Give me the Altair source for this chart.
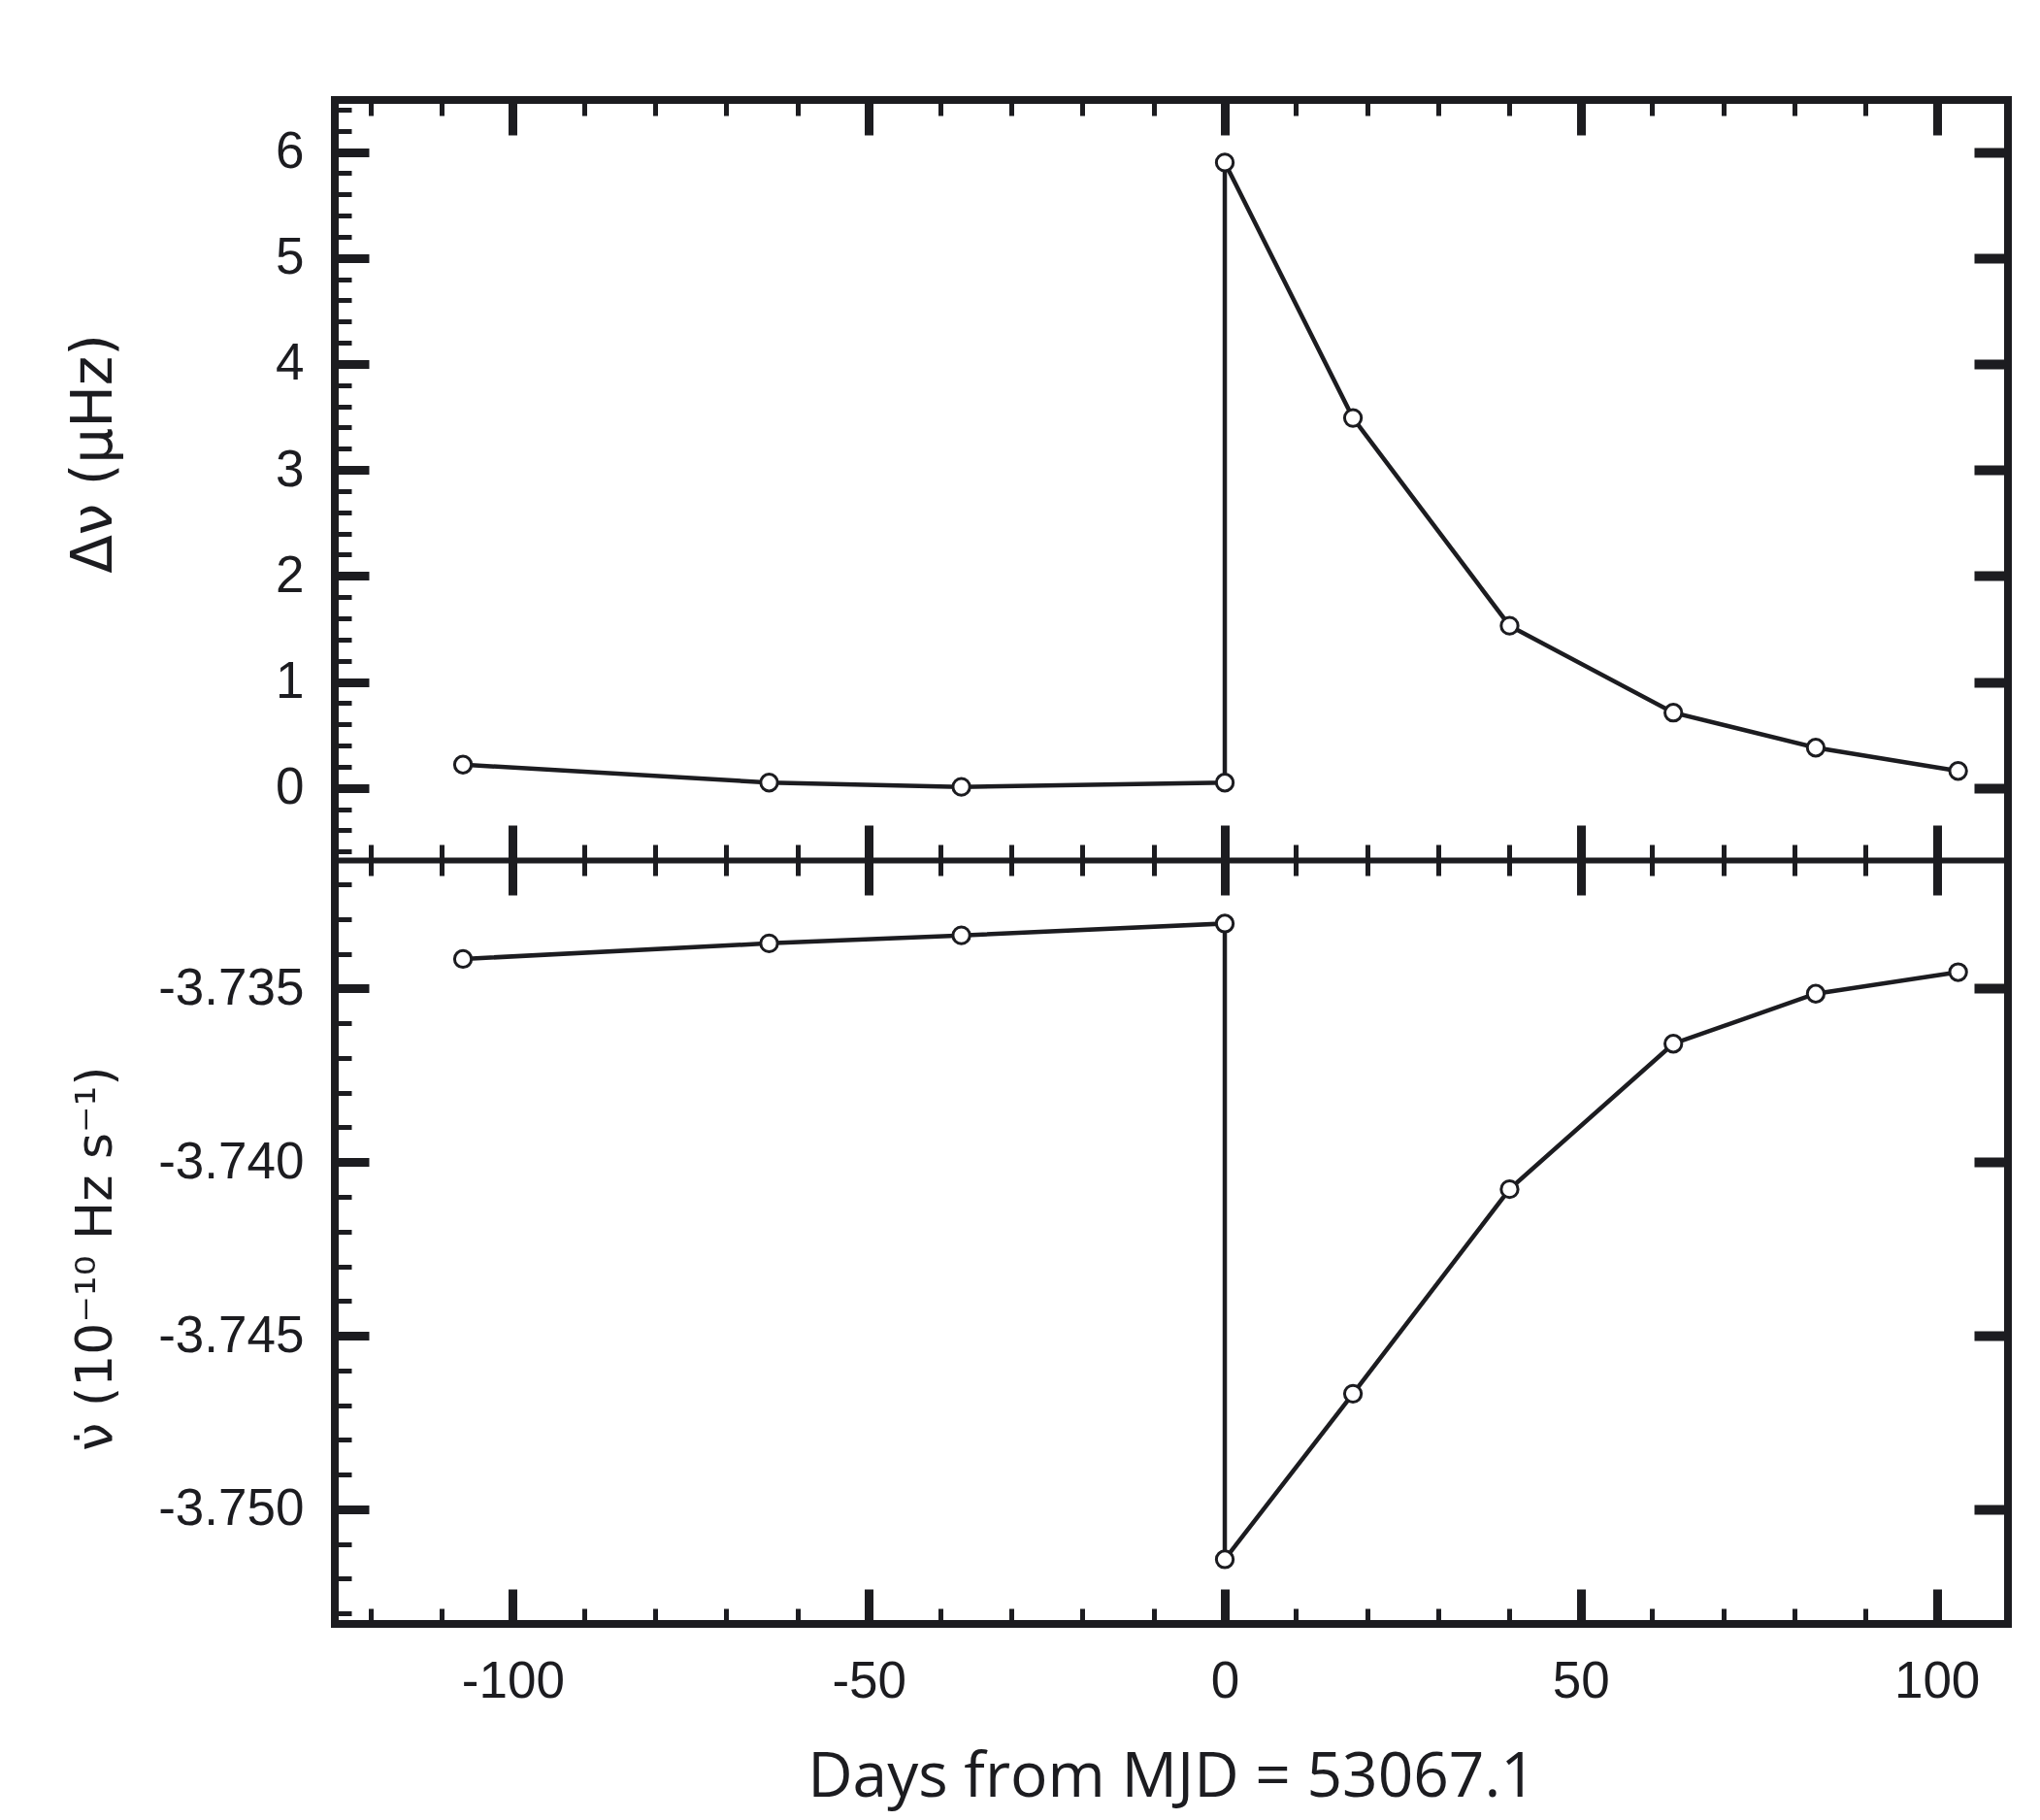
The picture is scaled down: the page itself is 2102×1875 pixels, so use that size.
import altair as alt
import pandas as pd

# ---- data ----
days = [-107, -64, -37, 0, 0, 18, 40, 63, 83, 103]
delta_nu = [0.22, 0.05, 0.01, 0.05, 5.90, 3.49, 1.53, 0.71, 0.38, 0.16]
nu_dot = [-3.73415, -3.73370, -3.73347, -3.73313, -3.75144,
          -3.74667, -3.74078, -3.73659, -3.73515, -3.73453]

x_domain = [-125, 110]
x_major = [-100, -50, 0, 50, 100]
x_minor = list(range(-120, 101, 10))

top_domain = [-0.68, 6.49]
top_major = [0, 1, 2, 3, 4, 5, 6]
top_minor = [round(-0.6 + 0.2 * i, 1) for i in range(36)]

bot_domain = [-3.7533, -3.7313]
bot_major = [-3.750, -3.745, -3.740, -3.735]
bot_minor = [round(-3.753 + 0.001 * i, 3) for i in range(22)]

x_title = "Days from MJD = 53067.1"
top_title = "Δν  (μHz)"
bot_title = "ν̇ (10⁻¹⁰ Hz s⁻¹)"

df = pd.DataFrame({"i": range(len(days)), "day": days,
                   "dnu": delta_nu, "nudot": nu_dot})

INK = "#1c1c20"
LABEL_FONT = "Liberation Sans"
TITLE_FONT = "DejaVu Sans"
PLOT_W = 1724
H_UP = 783
H_LO = 787
H = H_UP + H_LO

xs = alt.Scale(domain=x_domain, nice=False, zero=False)
ys_up = alt.Scale(domain=top_domain, range=[H_UP, 0], nice=False, zero=False)
ys_lo = alt.Scale(domain=bot_domain, range=[H, H_UP], nice=False, zero=False)


def tick_axis(orient, offset, size, width, values, **kw):
    return alt.Axis(orient=orient, offset=offset, tickSize=size, tickWidth=width,
                    tickColor=INK, values=values, labels=False,
                    domain=kw.pop("domain", False), grid=False, ticks=True,
                    title=None, **kw)


x_labels = alt.Axis(orient="bottom", values=x_major, ticks=False, tickSize=0,
                    domain=False, grid=False, labelPadding=33,
                    labelFont=LABEL_FONT, labelFontSize=53, labelColor=INK,
                    labelExpr="datum.value < 0 ? '-' + abs(datum.value) : '' + datum.value",
                    title=x_title, titleFont="Open Sans", titleFontSize=64,
                    titleFontWeight="normal", titleColor=INK,
                    titleBaseline="alphabetic", titleY=177)


def y_labels(values, expr, title, title_size, title_y):
    return alt.Axis(orient="left", values=values, ticks=False, tickSize=0,
                    domain=False, grid=False, labelPadding=32,
                    labelFont=LABEL_FONT, labelFontSize=53, labelColor=INK,
                    labelExpr=expr, title=title,
                    titleFont=TITLE_FONT, titleFontSize=title_size,
                    titleFontWeight="normal", titleColor=INK,
                    titleX=-231, titleY=title_y, titleBaseline="alphabetic")


base = alt.Chart(df)


def layer(field, yscale, xaxis, yaxis, kind="inv"):
    enc = dict(x=alt.X("day:Q", scale=xs, axis=xaxis),
               y=alt.Y(f"{field}:Q", scale=yscale, axis=yaxis))
    if kind == "line":
        return base.mark_line(color=INK, strokeWidth=4.5).encode(order=alt.Order("i:Q"), **enc)
    if kind == "pts":
        return base.mark_circle(fill="white", stroke=INK, strokeWidth=3,
                                size=300, opacity=1).encode(**enc)
    return base.mark_point(opacity=0).encode(**enc)


layers = [
    # upper panel (Δν)
    layer("dnu", ys_up, tick_axis("top", -36, 36, 9, x_major),
          y_labels(top_major, "'' + datum.value", top_title, 58, 364), "line"),
    layer("dnu", ys_up, tick_axis("top", -16, 16, 5, x_minor),
          tick_axis("left", -35, 35, 9, top_major), "pts"),
    layer("dnu", ys_up, tick_axis("top", -H_UP, 36, 9, x_major, domain=True,
                                  domainWidth=6, domainColor=INK),
          tick_axis("left", -17, 17, 5, top_minor)),
    layer("dnu", ys_up, tick_axis("top", -H_UP, 16, 5, x_minor),
          tick_axis("right", -35, 35, 10, top_major)),
    # lower panel (ν-dot)
    layer("nudot", ys_lo, x_labels,
          y_labels(bot_major, "'-' + format(abs(datum.value), '.3f')",
                   bot_title, 52, 1193), "line"),
    layer("nudot", ys_lo, tick_axis("bottom", -36, 36, 9, x_major),
          tick_axis("left", -35, 35, 9, bot_major), "pts"),
    layer("nudot", ys_lo, tick_axis("bottom", -16, 16, 5, x_minor),
          tick_axis("left", -17, 17, 5, bot_minor)),
    layer("nudot", ys_lo, tick_axis("bottom", -H_LO, 36, 9, x_major),
          tick_axis("right", -35, 35, 10, bot_major)),
    layer("nudot", ys_lo, tick_axis("bottom", -H_LO, 16, 5, x_minor), None),
]

chart = (alt.layer(*layers)
         .resolve_scale(y="independent")
         .resolve_axis(x="independent", y="independent")
         .properties(width=PLOT_W, height=H,
                     padding={"left": 60, "top": 90, "right": 10, "bottom": 20},
                     background="white")
         .configure_view(stroke=INK, strokeWidth=8))

chart.save("out.html", embed_options={"renderer": "svg", "actions": False})
